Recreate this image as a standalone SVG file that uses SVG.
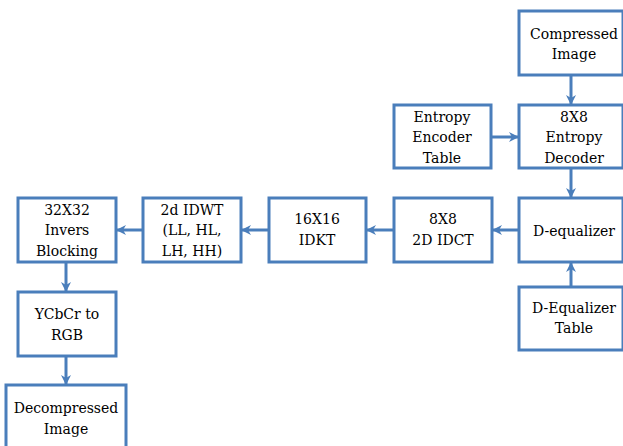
<svg xmlns="http://www.w3.org/2000/svg" width="623" height="446" viewBox="0 0 623 446">
<defs>
<marker id="ah" viewBox="0 0 10 10" refX="9" refY="5" markerWidth="10" markerHeight="10" markerUnits="userSpaceOnUse" orient="auto">
<path d="M0,0 L10,5 L0,10 L3,5 Z" fill="#4A7EBB"/>
</marker>
</defs>
<style>
.b{fill:#fff;stroke:#4A7EBB;stroke-width:3}
.t{font-family:'DejaVu Serif','Liberation Serif',serif;font-size:14px;fill:#000;text-anchor:middle}
.c{stroke:#4A7EBB;stroke-width:3;fill:none;marker-end:url(#ah)}
</style>
<rect width="623" height="446" fill="#fff"/>
<g id="connectors">
<line class="c" x1="571" y1="76" x2="571" y2="104"/>
<line class="c" x1="492" y1="137" x2="518" y2="137"/>
<line class="c" x1="571" y1="169" x2="571" y2="197"/>
<line class="c" x1="571" y1="286" x2="571" y2="263"/>
<line class="c" x1="519" y1="230" x2="493" y2="230"/>
<line class="c" x1="394" y1="230" x2="367" y2="230"/>
<line class="c" x1="269" y1="230" x2="242" y2="230"/>
<line class="c" x1="143" y1="230" x2="117" y2="230"/>
<line class="c" x1="66" y1="263" x2="66" y2="291"/>
<line class="c" x1="66" y1="356" x2="66" y2="384"/>
</g>
<g id="compressed"><rect class="b" x="519" y="11" width="104" height="64"/><text class="t" x="574" y="39">Compressed</text><text class="t" x="574" y="59">Image</text></g>
<g id="enc-table"><rect class="b" x="394" y="105" width="97" height="63"/><text class="t" x="442" y="122">Entropy</text><text class="t" x="442" y="142">Encoder</text><text class="t" x="442" y="163">Table</text></g>
<g id="decoder"><rect class="b" x="519" y="105" width="104" height="63"/><text class="t" x="574" y="122">8X8</text><text class="t" x="574" y="142">Entropy</text><text class="t" x="574" y="163">Decoder</text></g>
<g id="dequalizer"><rect class="b" x="519" y="198" width="104" height="64"/><text class="t" x="574" y="236">D-equalizer</text></g>
<g id="deq-table"><rect class="b" x="519" y="287" width="104" height="63"/><text class="t" x="574" y="313">D-Equalizer</text><text class="t" x="574" y="333">Table</text></g>
<g id="idct"><rect class="b" x="394" y="198" width="98" height="64"/><text class="t" x="443" y="224">8X8</text><text class="t" x="443" y="245">2D IDCT</text></g>
<g id="idkt"><rect class="b" x="269" y="198" width="97" height="64"/><text class="t" x="317" y="224">16X16</text><text class="t" x="317" y="245">IDKT</text></g>
<g id="idwt"><rect class="b" x="143" y="198" width="98" height="64"/><text class="t" x="192" y="215">2d IDWT</text><text class="t" x="192" y="235">(LL, HL,</text><text class="t" x="192" y="256">LH, HH)</text></g>
<g id="blocking"><rect class="b" x="18" y="198" width="98" height="64"/><text class="t" x="67" y="215">32X32</text><text class="t" x="67" y="235">Invers</text><text class="t" x="67" y="256">Blocking</text></g>
<g id="ycbcr"><rect class="b" x="18" y="292" width="98" height="64"/><text class="t" x="67" y="319">YCbCr to</text><text class="t" x="67" y="340">RGB</text></g>
<g id="decompressed"><rect class="b" x="6" y="385" width="120" height="70"/><text class="t" x="66" y="413">Decompressed</text><text class="t" x="66" y="434">Image</text></g>
</svg>
